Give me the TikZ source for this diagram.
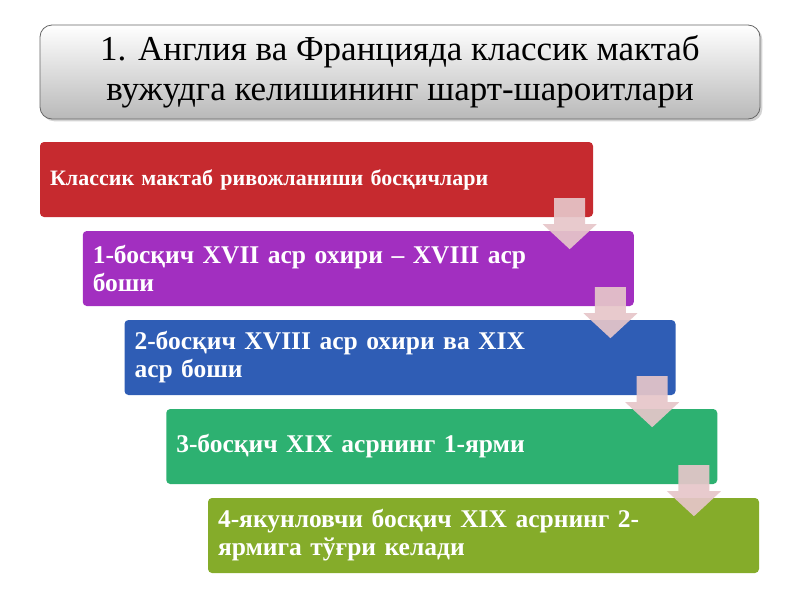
\documentclass[tikz,border=0pt]{standalone}
\usepackage{fontspec}
\setmainfont{Liberation Serif}
\usetikzlibrary{calc,shadows}
\definecolor{stepred}{RGB}{198,42,47}
\definecolor{steppurple}{RGB}{162,47,192}
\definecolor{stepblue}{RGB}{47,93,181}
\definecolor{stepgreen}{RGB}{45,177,113}
\definecolor{stepolive}{RGB}{133,172,42}
\definecolor{arrowpink}{RGB}{230,198,201}
\definecolor{titlegray}{RGB}{185,185,185}
\begin{document}
\begin{tikzpicture}[x=1pt,y=-1pt,
    titlebox/.style={rectangle,rounded corners=12pt,draw=black!60,line width=0.8pt,
      top color=white,bottom color=titlegray,drop shadow={opacity=0.35},
      minimum width=720pt,minimum height=94pt,align=center,
      font=\fontsize{35}{40}\selectfont},
    stepbox/.style={rectangle,rounded corners=4pt,minimum width=551pt,minimum height=75pt,
      text width=531pt,inner xsep=10pt,align=left,text=white,
      font=\bfseries\fontsize{25.5}{28}\selectfont},
    downarrow/.style={fill=arrowpink,fill opacity=0.92}]
    \useasboundingbox (0,0) rectangle (800,600);

    \node[titlebox] (T) at (400,72) {1. Англия ва Францияда классик мактаб\\вужудга келишининг шарт-шароитлари}; %表題

    \node[stepbox,fill=stepred,minimum width=553pt,text width=533pt,
      font=\bfseries\fontsize{22}{26}\selectfont] (s0) at (316.5,179.5) {Классик мактаб ривожланиши босқичлари}; %段階0
    \foreach \i/\col/\txt in {1/steppurple/{1-босқич XVII аср охири – XVIII аср\\боши},
                             2/stepblue/{2-босқич XVIII аср охири ва XIX\\аср боши},
                             3/stepgreen/{3-босқич XIX асрнинг 1-ярми},
                             4/stepolive/{4-якунловчи босқич XIX асрнинг 2-\\ярмига тўғри келади}}
        \node[stepbox,fill=\col] (s\i) at (316.5+41.75*\i,179.5+89*\i) {\txt}; %段階1-4

    % 下向きの矢印
    \foreach \i in {0,...,3}
        \fill[downarrow] ($(s\i.south east)+(-39,-19)$) -- ++(31,0) -- ++(0,26) -- ++(11.5,0)
            -- ($(s\i.south east)+(-23.5,32)$) -- ($(s\i.south east)+(-50.5,7)$) -- ++(11.5,0) -- cycle;
\end{tikzpicture}
\end{document}
